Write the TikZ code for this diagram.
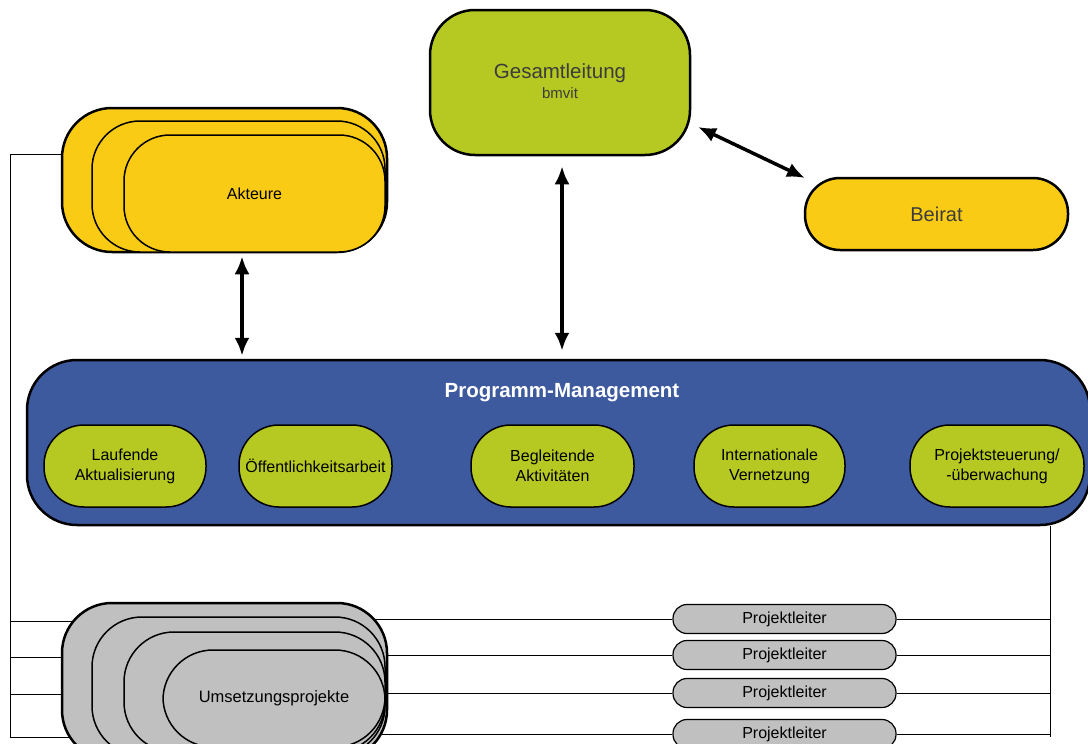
\documentclass[tikz,border=0pt]{standalone}
\usepackage{fontspec}
\setmainfont{Liberation Sans}
\usetikzlibrary{arrows.meta}
\definecolor{lgreen}{RGB}{181,201,34}
\definecolor{gold}{RGB}{249,203,21}
\definecolor{pmblue}{RGB}{61,90,158}
\definecolor{lgray}{RGB}{192,192,192}
\definecolor{dgray}{RGB}{60,60,60}
\tikzset{
  outerlayer/.style={draw=black, line width=2.5pt, inner sep=0pt},
  innerlayer/.style={draw=black, line width=1.5pt, inner sep=0pt},
  conn/.style={draw=black, line width=1pt},
  dbl/.style={line width=3.5pt, {Latex[length=18pt,width=15pt]}-{Latex[length=18pt,width=15pt]}},
  pill/.style={draw=black, line width=1.5pt, fill=lgreen, rounded corners=40pt, minimum height=82pt, align=center, font=\fontsize{16}{20}\selectfont, inner sep=0pt},
  plbox/.style={draw=black, line width=1.2pt, fill=lgray, rounded corners=14pt, minimum width=223pt, minimum height=29pt, font=\fontsize{16}{18}\selectfont, inner sep=0pt},
}
\begin{document}
\begin{tikzpicture}[x=1pt,y=-1pt]
\useasboundingbox (0,0) rectangle (1088,744);
\clip (0,0) rectangle (1088,744);

% helper coordinates
\coordinate (lx) at (10,0);
\coordinate (rx) at (1050,0);
\coordinate (ax) at (242,0);
\coordinate (gx) at (562,0);
\coordinate (y1) at (0,621);
\coordinate (y2) at (0,657);
\coordinate (y3) at (0,694);
\coordinate (y4) at (0,737);
\coordinate (aktL) at (70,154);

% Projektleiter boxes
\node[plbox] (pl1) at (784.5,619) {Projektleiter};
\node[plbox] (pl2) at (784.5,655) {Projektleiter};
\node[plbox] (pl3) at (784.5,693) {Projektleiter};
\node[plbox] (pl4) at (784.5,734) {Projektleiter};

% left connector lines (under stacks)
\draw[conn] (aktL) -- (aktL -| lx) -- (y4 -| lx);
\draw[conn] (y1 -| lx) -- (100,621) coordinate (l1);
\draw[conn] (y2 -| lx) -- (100,657) coordinate (l2);
\draw[conn] (y3 -| lx) -- (100,694) coordinate (l3);
\draw[conn] (y4 -| lx) -- (100,737) coordinate (l4);
% lines stack -> Projektleiter
\draw[conn] (350,619) -- (pl1.west);
\draw[conn] (350,655) -- (pl2.west);
\draw[conn] (350,693) -- (pl3.west);
\draw[conn] (350,734) -- (pl4.west);

% Gesamtleitung
\node[outerlayer, fill=lgreen, rounded corners=45pt, minimum width=260pt, minimum height=145pt] (ges) at (560,82.5) {};
\node[text=dgray, font=\fontsize{20.5}{22}\selectfont] (gest) at (560,73) {Gesamtleitung};
\node[text=dgray, font=\fontsize{15}{16}\selectfont] (bmv) at (560,93) {bmvit};

% Beirat
\node[outerlayer, fill=gold, rounded corners=35pt, minimum width=263pt, minimum height=72pt, text=dgray, font=\fontsize{20}{22}\selectfont] (bei) at (936.5,214) {Beirat};

% Akteure stack
\node[outerlayer, fill=gold, rounded corners=50pt, minimum width=325pt, minimum height=144pt] (akt1) at (224.5,180) {};
\node[innerlayer, fill=gold, rounded corners=48pt, minimum width=293pt, minimum height=131pt] (akt2) at (238.5,186.5) {};
\node[innerlayer, fill=gold, rounded corners=46pt, minimum width=261pt, minimum height=117pt, font=\fontsize{16}{18}\selectfont] (akt3) at (254.5,193.5) {Akteure};

% Programm-Management
\node[outerlayer, fill=pmblue, rounded corners=50pt, minimum width=1063pt, minimum height=165pt] (pm) at (558.5,442.5) {};
\node[text=white, font=\bfseries\fontsize{20.5}{22}\selectfont] (pmt) at (562,393) {Programm-Management};
\node[pill, minimum width=162pt] (p1) at (125,466) {Laufende\\Aktualisierung};
\node[pill, minimum width=153pt] (p2) at (315.5,466) {Öffentlichkeitsarbeit};
\node[pill, minimum width=163pt] (p3) at (552.5,466) {Begleitende\\Aktivitäten};
\node[pill, minimum width=151pt] (p4) at (769.5,466) {Internationale\\Vernetzung};
\node[pill, minimum width=174pt] (p5) at (997,466) {Projektsteuerung/\\-überwachung};

% right connector
\draw[conn] (pm.south -| rx) -- (y4 -| rx);
\draw[conn] (pl1.east) -- (pl1.east -| rx);
\draw[conn] (pl2.east) -- (pl2.east -| rx);
\draw[conn] (pl3.east) -- (pl3.east -| rx);
\draw[conn] (pl4.east) -- (pl4.east -| rx);

% Umsetzungsprojekte stack
\node[outerlayer, fill=lgray, rounded corners=50pt, minimum width=325pt, minimum height=157pt] (ump1) at (224.5,681.5) {};
\node[innerlayer, fill=lgray, rounded corners=50pt, minimum width=293pt, minimum height=139pt] (ump2) at (238.5,686.5) {};
\node[innerlayer, fill=lgray, rounded corners=50pt, minimum width=261pt, minimum height=120pt] (ump3) at (254.5,692) {};
\node[innerlayer, fill=lgray, rounded corners=50pt, minimum width=222pt, minimum height=97pt, font=\fontsize{16.5}{18}\selectfont] (ump4) at (274,698.5) {Umsetzungsprojekte};

% arrows
\draw[dbl] ([yshift=-3pt]akt1.south -| ax) -- ([yshift=3pt]pm.north -| ax);
\draw[dbl] ([yshift=-10pt]ges.south -| gx) -- ([yshift=8pt]pm.north -| gx);
\coordinate (gb1) at (698,127);
\coordinate (gb2) at (805,178);
\draw[dbl] (gb1) -- (gb2);
\end{tikzpicture}
\end{document}
